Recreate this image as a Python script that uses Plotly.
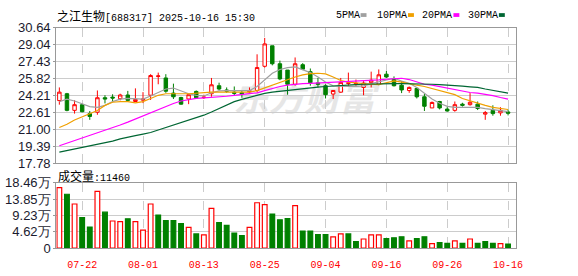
import plotly.graph_objects as go
import urllib.parse

# ---------------- data ----------------
dates = ["07-17","07-18","07-21","07-22","07-23","07-24","07-25","07-28","07-29","07-30",
         "07-31","08-01","08-04","08-05","08-06","08-07","08-08","08-11","08-12","08-13",
         "08-14","08-15","08-18","08-19","08-20","08-21","08-22","08-25","08-26","08-27",
         "08-28","08-29","09-01","09-02","09-03","09-04","09-05","09-08","09-09","09-10",
         "09-11","09-12","09-15","09-16","09-17","09-18","09-19","09-22","09-23","09-24",
         "09-25","09-26","09-29","09-30","10-09","10-10","10-13","10-14","10-15","10-16"]

open_ = [23.72,24.37,22.79,23.33,22.48,22.61,23.99,24.05,23.90,24.25,
         23.63,23.76,24.23,26.02,25.87,24.43,24.01,23.87,24.59,24.00,
         24.37,25.13,24.73,24.52,24.46,24.55,24.68,26.98,28.93,27.22,
         26.62,25.27,27.13,26.47,25.40,25.13,24.34,24.52,25.35,25.30,
         24.97,25.42,25.27,26.23,25.78,25.18,24.68,24.88,24.08,23.02,
         23.63,22.91,22.79,23.38,23.33,23.38,22.43,22.79,22.55,22.64]
high = [24.97,24.45,23.75,23.40,22.73,24.68,24.23,24.32,24.37,24.64,
        24.88,24.52,26.23,26.38,26.23,25.33,24.08,24.28,24.68,24.28,
        25.87,25.42,24.97,25.06,24.68,24.97,28.12,29.68,28.93,27.52,
        26.62,27.82,27.28,26.77,25.87,25.27,24.68,25.87,26.38,25.72,
        25.57,26.47,26.68,26.53,26.02,25.57,25.06,24.97,24.37,23.63,
        23.69,23.09,23.63,23.51,24.43,23.63,22.73,23.27,23.09,22.88]
low = [23.33,22.70,22.48,22.60,21.89,22.37,23.45,23.63,23.74,23.63,
       23.63,23.48,23.78,25.27,24.46,23.87,23.33,23.38,23.87,23.87,
       24.08,24.68,24.46,24.17,23.99,24.37,24.52,26.86,27.07,25.66,
       24.28,25.13,26.62,25.13,24.97,23.92,23.87,24.46,25.13,25.13,
       24.23,24.97,25.18,25.87,25.06,24.43,24.46,23.92,22.73,23.02,
       22.88,22.66,22.66,23.15,23.24,22.82,21.89,22.28,22.28,22.31]
close = [24.52,22.79,23.33,22.66,22.21,23.99,23.87,23.96,24.25,23.74,
         23.83,23.86,26.10,26.06,24.61,24.08,23.38,24.28,23.99,24.05,
         25.22,24.82,24.61,24.41,24.34,24.64,26.86,29.11,27.22,25.78,
         25.27,27.22,26.71,25.42,25.27,24.28,24.68,25.45,25.40,25.35,
         25.38,25.66,26.17,25.96,25.13,24.73,24.97,24.08,23.18,23.54,
         23.02,22.73,23.33,23.27,23.56,22.97,22.57,22.48,22.79,22.52]

# volume in 万 (10k lots)
volume = [17.12,15.25,12.49,8.64,5.97,16.05,10.17,7.68,7.49,8.29,
          7.49,5.08,12.49,9.36,7.76,7.76,6.96,5.89,4.01,3.75,
          11.24,7.22,6.42,4.28,3.57,5.89,12.84,12.31,9.63,8.03,
          8.38,12.04,4.82,4.82,3.83,3.83,3.21,4.01,4.01,1.87,
          2.59,3.75,3.75,2.68,2.94,3.21,2.05,2.68,3.21,1.25,
          1.60,1.34,2.05,1.34,2.59,1.34,1.87,1.34,1.25,1.146]

ma5 = [23.62,23.86,23.68,23.38,23.14,23.08,23.26,23.62,23.86,23.92,
       23.86,23.86,24.16,24.52,24.82,24.91,24.64,24.37,24.22,24.16,
       24.46,24.64,24.67,24.67,24.67,24.67,25.06,25.72,26.32,26.68,
       26.86,26.92,26.68,26.38,25.96,25.48,25.12,25.06,25.06,25.06,
       25.12,25.33,25.48,25.66,25.84,25.57,25.36,24.97,24.37,23.86,
       23.47,23.17,23.08,23.08,23.08,23.08,22.96,22.84,22.72,22.66]
ma10 = [21.16,21.46,21.88,22.18,22.48,22.78,23.26,23.56,23.62,23.62,
        23.50,23.62,23.92,24.22,24.37,24.40,24.37,24.37,24.43,24.46,
        24.52,24.52,24.52,24.52,24.52,24.52,24.67,24.94,25.18,25.42,
        25.69,25.96,26.17,26.29,26.32,26.26,25.96,25.63,25.48,25.39,
        25.33,25.27,25.24,25.42,25.60,25.48,25.30,25.18,25.06,24.88,
        24.70,24.52,24.28,23.92,23.68,23.47,23.26,23.08,22.96,22.87]
ma20 = [19.42,19.66,19.90,20.17,20.41,20.68,20.92,21.16,21.40,21.67,
        21.97,22.27,22.57,22.90,23.17,23.44,23.68,23.83,23.92,23.98,
        24.01,24.07,24.13,24.22,24.28,24.37,24.46,24.67,24.88,25.06,
        25.18,25.27,25.33,25.36,25.39,25.42,25.45,25.48,25.51,25.54,
        25.57,25.63,25.69,25.75,25.81,25.84,25.72,25.48,25.27,25.18,
        25.03,24.88,24.73,24.58,24.49,24.43,24.34,24.19,24.01,23.86]
ma30 = [18.82,18.97,19.12,19.27,19.39,19.51,19.66,19.87,20.08,20.26,
        20.38,20.53,20.68,20.92,21.16,21.34,21.58,21.82,22.06,22.33,
        22.63,22.96,23.26,23.62,23.83,24.04,24.25,24.40,24.52,24.61,
        24.70,24.79,24.88,24.94,25.00,25.06,25.12,25.15,25.21,25.24,
        25.27,25.30,25.30,25.33,25.33,25.33,25.33,25.30,25.30,25.27,
        25.24,25.21,25.18,25.09,25.03,24.97,24.82,24.67,24.52,24.43]

price_ticks = [17.78,19.39,21.00,22.61,24.21,25.82,27.43,29.04,30.64]
price_tick_text = ["17.78","19.39","21.00","22.61","24.21","25.82","27.43","29.04","30.64"]
vol_ticks = [0,4.62,9.23,13.85,18.46]
vol_tick_text = ["0","4.62万","9.23万","13.85万","18.46万"]
date_ticks = ["07-22","08-01","08-13","08-25","09-04","09-16","09-26","10-16"]

stock_name = "之江生物"
stock_info = "[688317] 2025-10-16 15:30"
volume_name = "成交量"
last_volume = "11460"
ma_names = ["5PMA","10PMA","20PMA","30PMA"]

# ---------------- styling ----------------
W, H = 578, 276
RED = "#ff0000"
GREEN = "#008000"
MA_COLORS = ["#a0a0a0", "#f0a000", "#ff00ff", "#006633"]
GRID = "#cccccc"
FRAME = "#999999"
NUM_FONT = "Liberation Sans, Arial, sans-serif"
MONO_FONT = "Liberation Mono, Noto Sans CJK SC, monospace"

x = list(range(len(dates)))
tick_idx = [dates.index(d) for d in date_ticks]

def px_x(p):
    return p / W

def px_y(p):
    return 1 - p / H

x_dom = [px_x(57), px_x(522)]
price_dom = [px_y(165), px_y(22)]
vol_dom = [px_y(255), px_y(186)]
x_range = [-0.4, 60.0]

vol_colors = []
for i in range(len(close)):
    ref = open_[i] if i == 0 else close[i - 1]
    vol_colors.append(RED if close[i] >= ref else GREEN)
vol_fill = ["#ffffff" if c == RED else GREEN for c in vol_colors]

fig = go.Figure()

for name, vals, col in zip(ma_names, [ma5, ma10, ma20, ma30], MA_COLORS):
    fig.add_trace(go.Scatter(x=x, y=vals, mode="lines", name=name,
                             line=dict(color=col, width=1.2),
                             xaxis="x", yaxis="y", hoverinfo="skip"))

fig.add_trace(go.Candlestick(
    x=x, open=open_, high=high, low=low, close=close,
    increasing=dict(line=dict(color=RED, width=1), fillcolor="#ffffff"),
    decreasing=dict(line=dict(color=GREEN, width=1), fillcolor=GREEN),
    whiskerwidth=0, xaxis="x", yaxis="y", hoverinfo="skip"))

fig.add_trace(go.Bar(
    x=x, y=volume, width=0.62,
    marker=dict(color=vol_fill, line=dict(color=vol_colors, width=1.2)),
    xaxis="x2", yaxis="y2", hoverinfo="skip"))

axis_common = dict(showline=True, linecolor=FRAME, linewidth=1.2, mirror=True,
                   zeroline=False, fixedrange=True)

fig.update_layout(
    width=W, height=H,
    margin=dict(l=0, r=0, t=0, b=0),
    paper_bgcolor="#ffffff", plot_bgcolor="#ffffff",
    showlegend=False, boxgap=0.35,
    xaxis=dict(domain=x_dom, range=x_range, tickmode="array", tickvals=tick_idx,
               showticklabels=False, ticks="", showgrid=True, gridcolor=GRID,
               griddash="dash", gridwidth=1, rangeslider=dict(visible=False),
               anchor="y", **axis_common),
    yaxis=dict(domain=price_dom, range=[17.78, 30.64], tickmode="array",
               tickvals=price_ticks, ticktext=price_tick_text, showgrid=True,
               gridcolor=GRID, gridwidth=1, ticks="outside", ticklen=2,
               tickcolor=FRAME, anchor="x",
               tickfont=dict(family=NUM_FONT, size=13, color="#1a1a2e"),
               **axis_common),
    xaxis2=dict(domain=x_dom, range=x_range, tickmode="array", tickvals=tick_idx,
                ticktext=date_ticks, showgrid=True, gridcolor=GRID, griddash="dash",
                gridwidth=1, ticks="outside", ticklen=7, tickcolor="rgba(0,0,0,0)",
                anchor="y2",
                tickfont=dict(family=MONO_FONT, size=10, color=RED),
                **axis_common),
    yaxis2=dict(domain=vol_dom, range=[0, 18.46], tickmode="array",
                tickvals=vol_ticks, ticktext=vol_tick_text, showgrid=True,
                gridcolor=GRID, gridwidth=1, ticks="outside", ticklen=2,
                tickcolor=FRAME, anchor="x2",
                tickfont=dict(family=NUM_FONT, size=13, color="#1a1a2e"),
                **axis_common),
)

# watermark (below traces) via inline SVG image
svg = ('<svg xmlns="http://www.w3.org/2000/svg" width="170" height="50">'
       '<text x="6" y="42" font-family="Noto Sans CJK SC" font-weight="bold" '
       'font-size="36" font-style="italic" fill="#e6e6e6">\u4e1c\u65b9\u8d22\u5bcc</text></svg>')
fig.add_layout_image(dict(
    source="data:image/svg+xml;charset=utf-8," + urllib.parse.quote(svg),
    xref="paper", yref="paper", x=px_x(230), y=px_y(68),
    sizex=170 / W, sizey=50 / H, xanchor="left", yanchor="top",
    sizing="stretch", layer="below"))

annotations = []
annotations.append(dict(
    text='<span style="font-family:Noto Sans CJK SC;font-size:12px">' + stock_name + '</span>' + stock_info,
    xref="paper", yref="paper", x=px_x(56), y=px_y(9), xanchor="left", yanchor="middle",
    showarrow=False, font=dict(family=MONO_FONT, size=10, color="#000000")))
annotations.append(dict(
    text='<span style="font-family:Noto Sans CJK SC;font-size:12px">' + volume_name + '</span>:' + last_volume,
    xref="paper", yref="paper", x=px_x(57), y=px_y(178), xanchor="left", yanchor="middle",
    showarrow=False, font=dict(family=MONO_FONT, size=10, color="#000000")))

legend_text_x = [338, 380, 425, 472]
legend_sq_x = [365, 413, 459, 505]
shapes = []
for name, col, tx, sx in zip(ma_names, MA_COLORS, legend_text_x, legend_sq_x):
    annotations.append(dict(text=name, xref="paper", yref="paper", x=px_x(tx), y=px_y(9),
                            xanchor="left", yanchor="middle", showarrow=False,
                            font=dict(family=MONO_FONT, size=10, color="#000000")))
    shapes.append(dict(type="rect", xref="paper", yref="paper",
                       x0=px_x(sx), x1=px_x(sx + 6), y0=px_y(10.5), y1=px_y(6.5),
                       fillcolor=col, line=dict(width=0)))

fig.update_layout(annotations=annotations, shapes=shapes)

fig.write_html("out.html")
